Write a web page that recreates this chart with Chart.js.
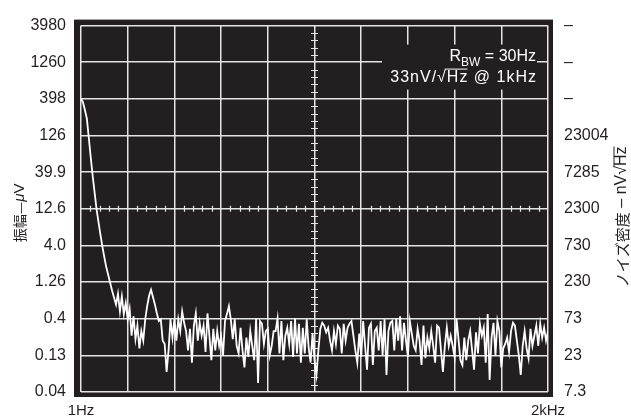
<!DOCTYPE html>
<html>
<head>
<meta charset="utf-8">
<script src="https://cdn.jsdelivr.net/npm/chart.js@4.4.0/dist/chart.umd.min.js"></script>
<style>
  body { margin: 0; background: #fff; }
  canvas { display: block; }
</style>
</head>
<body>
<canvas id="chart-ruido" width="631" height="419"></canvas>
<script>
const rolloffUV = [400, 359, 280, 215, 118, 63.6, 35.4, 20.9, 12.4, 8.30, 5.56, 3.84, 2.73, 2.00, 1.57, 1.22, 0.957, 0.770, 0.621];
const humpUV = [0.87, 0.50, 0.80, 0.46, 0.65, 0.39, 0.54, 0.233, 0.43, 0.21, 0.32, 0.157, 0.27, 0.20, 0.39,
    0.59, 0.82, 0.99, 0.78, 0.62, 0.47, 0.37, 0.39, 0.20, 0.18, 0.075, 0.147, 0.39, 0.22, 0.39];
const floorUV1 = [0.20, 0.39, 0.27, 0.50, 0.35, 0.27, 0.147, 0.29, 0.10, 0.32, 0.47, 0.20, 0.35, 0.233, 0.32, 0.14, 0.47,
    0.23, 0.108, 0.29, 0.147, 0.27, 0.17, 0.23, 0.126, 0.37, 0.46, 0.59, 0.39, 0.21, 0.39, 0.17, 0.134, 0.30,
    0.147, 0.086, 0.22, 0.12, 0.27, 0.17, 0.108, 0.40, 0.053, 0.37, 0.34, 0.18, 0.27, 0.29, 0.126, 0.17, 0.27];
const floorUV2 = [0.27, 0.40, 0.134, 0.37, 0.108, 0.233, 0.30, 0.18, 0.37, 0.12, 0.40, 0.134, 0.34, 0.10, 0.30, 0.134,
    0.39, 0.16, 0.10, 0.25, 0.108, 0.068, 0.147, 0.29, 0.35, 0.32, 0.26, 0.30, 0.20, 0.147, 0.27, 0.18, 0.32,
    0.29, 0.134, 0.34, 0.20, 0.30, 0.34, 0.37, 0.233, 0.147, 0.10, 0.25, 0.12, 0.37, 0.17, 0.08, 0.30];
const floorUV3 = [0.34, 0.093, 0.27, 0.30, 0.147, 0.37, 0.126, 0.39, 0.068, 0.27, 0.35, 0.37, 0.147, 0.40, 0.20, 0.43,
    0.147, 0.35, 0.20, 0.12, 0.37, 0.25, 0.17, 0.147, 0.29, 0.20, 0.093, 0.32, 0.115, 0.22, 0.157, 0.27, 0.17,
    0.10, 0.32, 0.30, 0.147, 0.075, 0.17, 0.30, 0.17, 0.233, 0.17, 0.12, 0.40, 0.21, 0.108, 0.093, 0.22];
const floorUV4 = [0.108, 0.20, 0.27, 0.147, 0.08, 0.26, 0.134, 0.34, 0.233, 0.30, 0.10, 0.46, 0.058, 0.22, 0.35, 0.126,
    0.37, 0.27, 0.086, 0.157, 0.18, 0.22, 0.14, 0.27, 0.35, 0.32, 0.20, 0.126, 0.068, 0.17, 0.27, 0.157, 0.115,
    0.29, 0.17, 0.233, 0.32, 0.17, 0.34, 0.22, 0.30, 0.20, 0.27];

const amplitudeUV = rolloffUV.concat(humpUV, floorUV1, floorUV2, floorUV3, floorUV4);

// LINHAS DA GRADE (MEIA DÉCADA), DE BAIXO PARA CIMA
const yGridUV = [0.0398, 0.12586, 0.398, 1.2586, 3.98, 12.586, 39.8, 125.86, 398, 1258.6, 3980];
const leftLabels = ['0.04', '0.13', '0.4', '1.26', '4.0', '12.6', '39.9', '126', '398', '1260', '3980'];
const rightLabels = ['7.3', '23', '73', '230', '730', '2300', '7285', '23004', '–', '–', '–'];
const xEdgeLabels = ['1Hz', '2kHz'];
const xDivisions = 10;

const escuro = '#231f20';
const grade = '#e4e4e4';
const fonteLatina = "'Liberation Sans', Arial, sans-serif";
const fonteCJK = "'Noto Sans CJK JP', sans-serif";

const ultimo = amplitudeUV.length - 1;

// FUNDO PRETO DA TELA DO OSCILOSCÓPIO
const fundoPreto = {
    id: 'fundoPreto',
    beforeDraw(chart) {
        const {ctx, chartArea: a} = chart;
        ctx.save();
        ctx.fillStyle = escuro;
        ctx.fillRect(a.left - 7, a.top - 6, a.right - a.left + 12, a.bottom - a.top + 11);
        ctx.restore();
    }
};

// MARCAS NAS LINHAS CENTRAIS E CAIXA DE TEXTO
const detalhes = {
    id: 'detalhes',
    beforeDatasetsDraw(chart) {
        const {ctx, chartArea: a, scales} = chart;
        const xs = scales.x, ys = scales.y;
        ctx.save();
        ctx.strokeStyle = grade;
        ctx.lineWidth = 1.2;

        const yc = ys.getPixelForValue(yGridUV[5]);
        const xc = xs.getPixelForValue(ultimo / 2);
        const passoX = (a.right - a.left) / xDivisions;
        const passoY = (a.bottom - a.top) / (yGridUV.length - 1);
        ctx.beginPath();
        for (let k = 0; k < xDivisions; ++k) {
            for (let m = 1; m < 5; ++m) {
                const px = Math.round(a.left + passoX * (k + m / 5)) + 0.5;
                ctx.moveTo(px, yc - 3);
                ctx.lineTo(px, yc + 3);
            }
        }
        for (let k = 0; k < yGridUV.length - 1; ++k) {
            for (let m = 1; m < 5; ++m) {
                const py = Math.round(a.top + passoY * (k + m / 5)) + 0.5;
                ctx.moveTo(xc - 3.5, py);
                ctx.lineTo(xc + 3.5, py);
            }
        }
        ctx.stroke();

        // CAIXA DO RBW
        const xr = a.right - 12;
        ctx.fillStyle = escuro;
        ctx.fillRect(a.right - 166, a.top + 19, 155, 45);

        ctx.fillStyle = '#ffffff';
        ctx.textBaseline = 'alphabetic';
        ctx.textAlign = 'left';
        ctx.font = '16px ' + fonteLatina;
        const t1 = ' = 30Hz';
        const w1 = ctx.measureText(t1).width;
        ctx.font = '12px ' + fonteLatina;
        const wBW = ctx.measureText('BW').width;
        ctx.font = '16px ' + fonteLatina;
        const wR = ctx.measureText('R').width;
        let x0 = xr - w1 - wBW - wR;
        ctx.fillText('R', x0, a.top + 35);
        ctx.font = '12px ' + fonteLatina;
        ctx.fillText('BW', x0 + wR, a.top + 40);
        ctx.font = '16px ' + fonteLatina;
        ctx.fillText(t1, x0 + wR + wBW, a.top + 35);

        // segunda linha um pouco mais espaçada
        if ('letterSpacing' in ctx) ctx.letterSpacing = '1px';
        const s1 = '33nV/√', s2 = 'Hz', s3 = ' @ 1kHz';
        const ws1 = ctx.measureText(s1).width, ws2 = ctx.measureText(s2).width, ws3 = ctx.measureText(s3).width;
        x0 = xr - ws1 - ws2 - ws3 + 1;
        const base2 = a.top + 56;
        ctx.fillText(s1, x0, base2);
        ctx.fillText(s2, x0 + ws1, base2);
        ctx.fillText(s3, x0 + ws1 + ws2, base2);
        ctx.strokeStyle = '#ffffff';
        ctx.lineWidth = 1;
        ctx.beginPath();
        ctx.moveTo(x0 + ws1 - 2, base2 - 12.5);
        ctx.lineTo(x0 + ws1 + ws2 - 1, base2 - 12.5);
        ctx.stroke();
        ctx.restore();
    },
    afterDraw(chart) {
        const {ctx, chartArea: a} = chart;
        const meioY = (a.top + a.bottom) / 2;

        function tituloVertical(cx, cy, partes) {
            ctx.save();
            ctx.translate(cx, cy);
            ctx.rotate(-Math.PI / 2);
            ctx.fillStyle = escuro;
            ctx.textBaseline = 'middle';
            ctx.textAlign = 'left';
            let total = 0;
            partes.forEach(p => { ctx.font = p.font; p.w = ctx.measureText(p.text).width; total += p.w; });
            let x = -total / 2;
            partes.forEach(p => {
                ctx.font = p.font;
                ctx.fillText(p.text, x, 0);
                if (p.barra) {
                    ctx.strokeStyle = escuro;
                    ctx.lineWidth = 1;
                    ctx.beginPath();
                    ctx.moveTo(x - 1, -8);
                    ctx.lineTo(x + p.w, -8);
                    ctx.stroke();
                }
                x += p.w;
            });
            ctx.restore();
        }

        tituloVertical(20, meioY + 4, [
            {text: '振幅—', font: '14px ' + fonteCJK},
            {text: 'μ', font: 'italic 15px ' + fonteLatina},
            {text: 'V', font: '15px ' + fonteLatina}
        ]);
        tituloVertical(622, meioY + 8, [
            {text: 'ノイズ密度', font: '15px ' + fonteCJK},
            {text: ' – nV√', font: '16px ' + fonteLatina},
            {text: 'Hz', font: '16px ' + fonteLatina, barra: true}
        ]);
    }
};

new Chart(document.getElementById('chart-ruido').getContext('2d'), {
    type: 'line',
    data: {
        datasets: [{
            data: amplitudeUV.map((v, i) => ({x: i, y: v})),
            borderColor: '#ffffff',
            borderWidth: 1.8,
            pointRadius: 0,
            tension: 0,
            yAxisID: 'y'
        }]
    },
    options: {
        responsive: false,
        animation: false,
        devicePixelRatio: 1,
        layout: {padding: {top: 19, left: 0, right: 0, bottom: 0}},
        scales: {
            x: {
                type: 'linear',
                min: 0,
                max: ultimo,
                afterBuildTicks: function(scale) {
                    const t = [];
                    for (let k = 0; k <= xDivisions; ++k) {
                        t.push({value: k * ultimo / xDivisions});
                    }
                    scale.ticks = t;
                },
                afterFit: function(scale) { scale.height = 27; },
                grid: {color: grade, lineWidth: 1.5, drawTicks: false},
                border: {display: false},
                ticks: {
                    padding: 10,
                    maxRotation: 0,
                    autoSkip: false,
                    color: escuro,
                    font: {family: fonteLatina, size: 15},
                    callback: function(v, i, t) {
                        if (i === 0) return xEdgeLabels[0];
                        if (i === t.length - 1) return xEdgeLabels[1];
                        return '';
                    }
                }
            },
            y: {
                type: 'logarithmic',
                position: 'left',
                min: yGridUV[0],
                max: yGridUV[yGridUV.length - 1],
                afterBuildTicks: function(scale) {
                    scale.ticks = yGridUV.map(v => ({value: v}));
                },
                afterFit: function(scale) { scale.width = 81; },
                grid: {color: grade, lineWidth: 1.5, drawTicks: false},
                border: {display: false},
                ticks: {
                    padding: 15,
                    autoSkip: false,
                    color: escuro,
                    font: {family: fonteLatina, size: 16},
                    callback: function(v, i) { return leftLabels[i]; }
                }
            },
            y2: {
                type: 'logarithmic',
                position: 'right',
                min: yGridUV[0],
                max: yGridUV[yGridUV.length - 1],
                afterBuildTicks: function(scale) {
                    scale.ticks = yGridUV.map(v => ({value: v}));
                },
                afterFit: function(scale) { scale.width = 83; },
                grid: {display: false, drawTicks: false},
                border: {display: false},
                ticks: {
                    padding: 16,
                    autoSkip: false,
                    color: escuro,
                    font: {family: fonteLatina, size: 16},
                    callback: function(v, i) { return rightLabels[i]; }
                }
            }
        },
        plugins: {
            legend: {display: false},
            tooltip: {enabled: false}
        }
    },
    plugins: [fundoPreto, detalhes]
});
</script>
</body>
</html>
